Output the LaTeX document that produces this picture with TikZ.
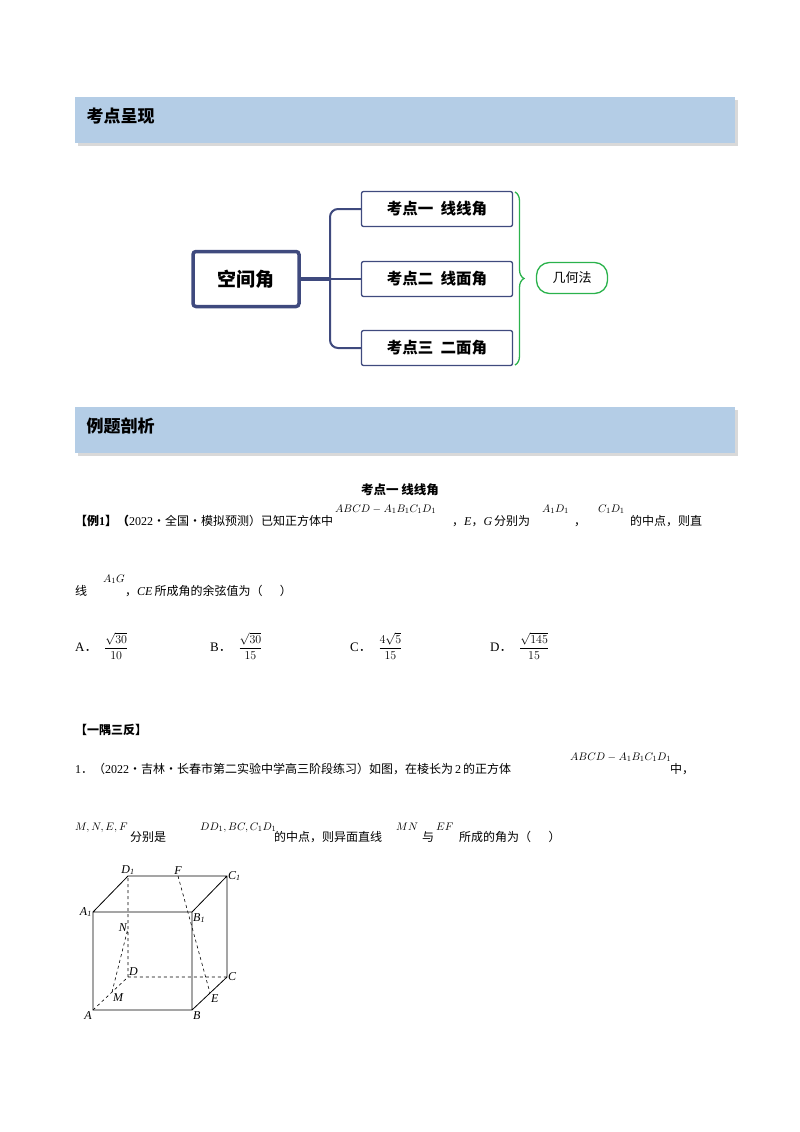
\documentclass[tikz,border=0pt]{standalone}
\usepackage{fontspec}
\setmainfont{Liberation Serif}
\newfontfamily\cjk{Noto Sans CJK SC}
\newcommand{\C}[1]{{\cjk #1}}
\usetikzlibrary{decorations.pathreplacing}
\definecolor{band}{HTML}{B4CDE6}
\definecolor{navy}{HTML}{3F4A7E}
\definecolor{grn}{HTML}{2BB24C}
\tikzset{
 t/.style={anchor=base west,inner sep=0,font=\fontsize{12}{14}\selectfont},
 m/.style={anchor=base west,inner sep=0,font=\fontsize{11}{13}\selectfont},
 box/.style={draw=navy,line width=1.3pt,rounded corners=2pt,minimum width=151pt,minimum height=35pt,font=\cjk\bfseries\fontsize{15.5}{17}\selectfont},
 conn/.style={navy,line width=2pt,rounded corners=8pt},
 lab/.style={inner sep=1pt,font=\itshape\fontsize{12}{13}\selectfont},
 dsh/.style={dashed,line width=0.6pt}
}
\begin{document}
\begin{tikzpicture}[x=1pt,y=-1pt]
\useasboundingbox (0,0) rectangle (800,1132);
% bands
\foreach \y/\s in {97/考点呈现,407/例题剖析}{
 \fill[gray!30] (78,\y+3) rectangle (738,\y+49);
 \fill[band] (75,\y) rectangle (735,\y+46);
 \node[anchor=west,font=\cjk\bfseries\fontsize{17}{19}\selectfont] at (83,\y+19) {\s};
}
% mind map
\node[draw=navy,line width=3.5pt,rounded corners=3pt,minimum width=106pt,minimum height=55pt,font=\cjk\bfseries\fontsize{19}{21}\selectfont] (root) at (246,279) {空间角};
\node[box] (b1) at (437,209) {考点一\ \ 线线角};
\node[box] (b2) at (437,279) {考点二\ \ 线面角};
\node[box] (b3) at (437,348) {考点三\ \ 二面角};
\coordinate (j) at (330,279);
\draw[navy,line width=4pt] (root.east) -- (j);
\draw[conn] (j) |- (b1.west);
\draw[conn] (j) |- (b3.west);
\draw[conn] (j) -- (b2.west);
\draw[grn,line width=1.3pt,decorate,decoration={brace,amplitude=9pt}] (515,192) -- (515,365);
\node[draw=grn,line width=1.3pt,rounded corners=13pt,minimum width=71pt,minimum height=31pt,font=\cjk\fontsize{13}{15}\selectfont] (g) at (572,278) {几何法};
% example
\node[anchor=base,inner sep=0,font=\cjk\bfseries\fontsize{12.5}{14}\selectfont] (h1) at (400,494) {考点一\ 线线角};
\node[t] (e1) at (75,525) {\C{\bfseries 【例}\textbf{1}\C{\bfseries 】（}2022\C{·全国·模拟预测）已知正方体中}};
\node[m] (e2) at (335,512) {$ABCD-A_1B_1C_1D_1$};
\node[t] (e3) at (452,525) {\C{，}\textit{E}\C{，}\textit{G}\,\C{分别为}};
\node[m] (e4) at (542,512) {$A_1D_1$};
\node[t] (e5) at (574,525) {\C{，}};
\node[m] (e6) at (598,512) {$C_1D_1$};
\node[t] (e7) at (630,525) {\C{的中点，则直}};
\node[t] (f1) at (75,595) {\C{线}};
\node[m] (f2) at (103,582) {$A_1G$};
\node[t] (f3) at (125,595) {\C{，}\textit{CE}\,\C{所成角的余弦值为（\quad\ \ ）}};
\foreach \x/\l/\f in {75/A/{\frac{\sqrt{30}}{10}},210/B/{\frac{\sqrt{30}}{15}},350/C/{\frac{4\sqrt{5}}{15}},490/D/{\frac{\sqrt{145}}{15}}}{
 \node[anchor=west,inner sep=0,font=\fontsize{13}{15}\selectfont] at (\x,646) {\l\C{．}\ \ $\displaystyle\f$};
}
% practice
\node[t] (p0) at (75,734) {\C{\bfseries 【一隅三反】}};
\node[t] (p1) at (75,773) {1\C{．（}2022\C{·吉林·长春市第二实验中学高三阶段练习）如图，在棱长为}\,2\,\C{的正方体}};
\node[m] (p2) at (570,760) {$ABCD-A_1B_1C_1D_1$};
\node[t] (p3) at (670,773) {\C{中，}};
\node[m] (q1) at (75,830) {$M,N,E,F$};
\node[t] (q2) at (130,841) {\C{分别是}};
\node[m] (q3) at (200,830) {$DD_1,BC,C_1D_1$};
\node[t] (q4) at (274,841) {\C{的中点，则异面直线}};
\node[m] (q5) at (396,830) {$MN$};
\node[t] (q6) at (422,841) {\C{与}};
\node[m] (q7) at (436,830) {$EF$};
\node[t] (q8) at (459,841) {\C{所成的角为（\quad\ \ ）}};
% cube
\coordinate (A) at (93,1010); \coordinate (B) at (192,1010);
\coordinate (C) at (227,977); \coordinate (D) at (128,977);
\coordinate (A1) at (93,912); \coordinate (B1) at (192,912);
\coordinate (C1) at (227,876); \coordinate (D1) at (128,876);
\coordinate (F) at (178,876); \coordinate (E) at (210,993);
\coordinate (M) at (112,992); \coordinate (N) at (128,928);
\draw[line width=0.8pt] (A)--(B)--(C)--(C1)--(D1)--(A1)--cycle (A1)--(B1)--(B) (B1)--(C1);
\draw[dsh] (A)--(D)--(C) (D)--(D1) (M)--(N) (F)--(E);
\node[lab,anchor=north east] at (A) {A};
\node[lab,anchor=north west] at (B) {B};
\node[lab,anchor=west] at (C) {C};
\node[lab,anchor=south west] at (D) {D};
\node[lab,anchor=east] at (A1) {A\textsubscript{1}};
\node[lab,anchor=north west] at (B1) {B\textsubscript{1}};
\node[lab,anchor=west] at (C1) {C\textsubscript{1}};
\node[lab,anchor=south] at (D1) {D\textsubscript{1}};
\node[lab,anchor=south] at (F) {F};
\node[lab,anchor=north west] at (E) {E};
\node[lab,anchor=north west] at (M) {M};
\node[lab,anchor=east] at (N) {N};
\end{tikzpicture}
\end{document}
